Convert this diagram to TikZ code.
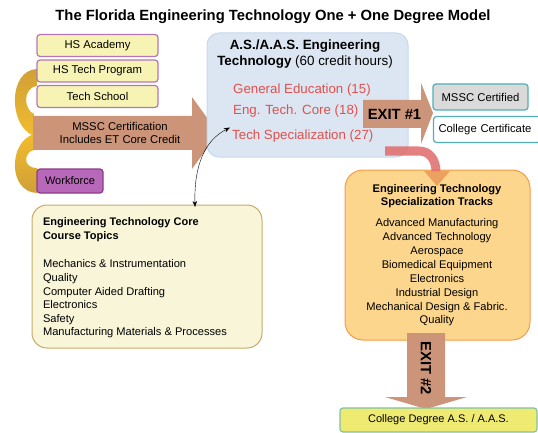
\documentclass[tikz,border=0pt]{standalone}
\usepackage{fontspec}
\setmainfont{Liberation Sans}
\usetikzlibrary{arrows.meta}

\definecolor{entryfill}{HTML}{F6F3B4}
\definecolor{entrydraw}{HTML}{B476B8}
\definecolor{flowbrown}{HTML}{CC9478}
\definecolor{workfill}{HTML}{B868B8}
\definecolor{workdraw}{HTML}{8A3C8A}
\definecolor{gold}{HTML}{CFA036}
\definecolor{goldlight}{HTML}{F2BC2E}
\definecolor{degreefill}{HTML}{DCE6F2}
\definecolor{degreedraw}{HTML}{C5D9EE}
\definecolor{coursered}{HTML}{E0504C}
\definecolor{exitdraw}{HTML}{4FAFB5}
\definecolor{certfill}{HTML}{DADADA}
\definecolor{trackfill}{HTML}{FCD68C}
\definecolor{trackdraw}{HTML}{F59B48}
\definecolor{curvered}{HTML}{E06A6A}
\definecolor{headorange}{HTML}{EC9C5C}
\definecolor{corefill}{HTML}{F8F5D8}
\definecolor{coredraw}{HTML}{C8AA68}
\definecolor{gradfill}{HTML}{EFEB72}
\definecolor{graddraw}{HTML}{80C2A4}

\begin{document}
\begin{tikzpicture}[x=1pt, y=-1pt, font=\fontsize{11.3}{13}\selectfont,
    entry/.style={draw=entrydraw, fill=entryfill, line width=1.2pt, rounded corners=3pt,
        minimum width=121pt, minimum height=22pt, inner sep=0pt},
    exitbox/.style={draw=exitdraw, line width=1.2pt, rounded corners=3pt, minimum height=26pt, inner sep=0pt},
    panel/.style={rounded corners=14pt, line width=1pt, inner sep=0pt},
    course/.style={text=coursered, font=\fontsize{13.3}{15}\selectfont, anchor=west, inner sep=2pt},
    listing/.style={align=left, anchor=west, font=\fontsize{11.1}{13.6}\selectfont}]
    \useasboundingbox (0,0) rectangle (538,433);

    % Title
    \node[font=\fontsize{14.8}{17}\selectfont\bfseries] (title) at (273,17)
        {The Florida Engineering Technology One + One Degree Model};

    % Gold bands into the big arrow
    \shade[top color=gold, bottom color=goldlight] (37,69) .. controls (8,70) and (8,126) .. (34,136)
        -- (34,114) .. controls (24,110) and (22,88) .. (37,86) -- cycle;
    \shade[top color=goldlight, bottom color=gold] (37,193) .. controls (8,192) and (8,142) .. (34,134)
        -- (34,150) .. controls (24,152) and (22,168) .. (37,168) -- cycle;

    % Entry boxes on the left
    \node[entry] (academy) at (97.5,45.5) {HS Academy};
    \node[entry] (hstech) at (97.5,71) {HS Tech Program};
    \node[entry] (school) at (97.5,96.5) {Tech School};
    \node[draw=workdraw, fill=workfill, line width=1.2pt, rounded corners=3pt, font=\fontsize{11}{13}\selectfont,
        minimum width=66pt, minimum height=24pt, inner sep=0pt] (workforce) at (70,181) {Workforce};

    % Big arrow
    \fill[flowbrown] (33,116) -- (192,116) -- (192,97) -- (218,133) -- (192,169)
        -- (192,150) -- (33,150) -- cycle;
    \node[align=center] (mssc) at (120,133) {MSSC Certification\\Includes ET Core Credit};

    % Degree panel
    \node[panel, rounded corners=12pt, draw=degreedraw, fill=degreefill,
        minimum width=201pt, minimum height=124pt] (degree) at (307.5,95) {};
    \node[align=center, font=\fontsize{13.4}{16}\selectfont] (degreehead) at (305,54)
        {\textbf{A.S./A.A.S. Engineering}\\\textbf{Technology} (60 credit hours)};
    \node[course] (gened) at (231,90) {General Education (15)};
    \node[course] (etcore) at (231,111) {Eng. Tech. Core (18)};
    \node[course] (techspec) at (230,136) {Tech Specialization (27)};

    % Exit #1
    \fill[flowbrown] (363,100) -- (421,100) -- (421,83) -- (433,113) -- (421,144)
        -- (421,128) -- (363,128) -- cycle;
    \node[font=\fontsize{14.8}{17}\selectfont\bfseries] (exitone) at (394.5,114) {EXIT \#1};
    \node[exitbox, fill=certfill, minimum width=95pt] (certified) at (480.5,97) {MSSC Certified};
    \node[exitbox, fill=white, minimum width=107pt, text width=97pt] (certificate) at (487,129.5)
        {College Certificate};

    % Specialization panel
    \node[panel, rounded corners=18pt, draw=trackdraw, fill=trackfill,
        minimum width=185pt, minimum height=170pt] (tracks) at (437.5,255) {};
    \node[align=center, font=\fontsize{11.1}{13}\selectfont\bfseries] (trackhead) at (437,196.5)
        {Engineering Technology\\Specialization Tracks};
    \node[align=center, font=\fontsize{11.1}{13.86}\selectfont] (tracklist) at (437,272.5)
        {Advanced Manufacturing\\Advanced Technology\\Aerospace\\Biomedical Equipment\\
         Electronics\\Industrial Design\\Mechanical Design \& Fabric.\\Quality};

    % Red curve from degree to tracks
    \coordinate (tracktail) at (385,151);
    \coordinate (trackin) at (436,172);
    \draw[curvered, opacity=.85, line width=9pt] (tracktail) -- (419,151)
        .. controls (429,151) and (436,159) .. (trackin);
    \fill[headorange, opacity=.9] (424,171) -- (450,171) -- (437,186) -- cycle;

    % Exit #2
    \fill[flowbrown] (407,333) -- (445,333) -- (445,397) -- (467,397) -- (426,409)
        -- (385,397) -- (407,397) -- cycle;
    \node[rotate=-90, font=\fontsize{14.8}{17}\selectfont\bfseries] (exittwo) at (426,368) {EXIT \#2};
    \node[draw=graddraw, fill=gradfill, line width=1.2pt, rounded corners=3pt, font=\fontsize{11}{13}\selectfont,
        minimum width=197pt, minimum height=24pt, inner sep=0pt] (graduate) at (438.5,420)
        {College Degree A.S. / A.A.S.};

    % Core topics panel
    \node[panel, rounded corners=15pt, draw=coredraw, fill=corefill,
        minimum width=230pt, minimum height=143pt] (core) at (147,276.5) {};
    \node[listing, font=\fontsize{11}{14}\selectfont\bfseries] (corehead) at (39.5,230)
        {Engineering Technology Core\\Course Topics};
    \node[listing] (coretopics) at (39.5,299)
        {Mechanics \& Instrumentation\\Quality\\Computer Aided Drafting\\Electronics\\
         Safety\\Manufacturing Materials \& Processes};

    % Link between core topics and the degree
    \coordinate (corelink) at (195,207);
    \draw[{Stealth[length=6pt,width=4.5pt]}-{Stealth[length=6pt,width=4.5pt]}]
        (corelink) .. controls (194,165) and (205,140) .. (techspec.north west);
\end{tikzpicture}
\end{document}
